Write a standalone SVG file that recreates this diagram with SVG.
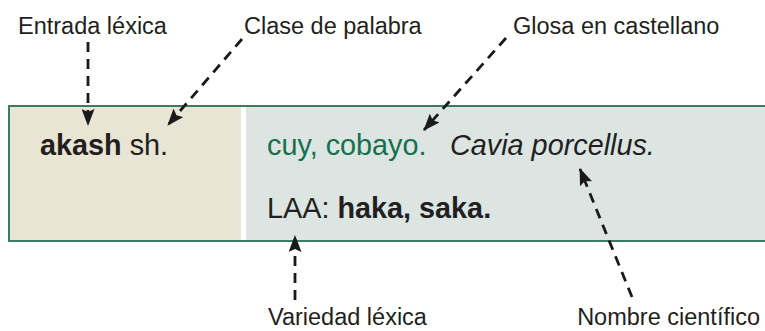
<svg xmlns="http://www.w3.org/2000/svg" width="765" height="331" viewBox="0 0 765 331">
  <style>
    .lbl { font-family: "Liberation Sans", Arial, sans-serif; font-size: 23.5px; fill: #231f20; }
    .txt { font-family: "Liberation Sans", Arial, sans-serif; font-size: 28.8px; fill: #231f20; }
    .b { font-weight: bold; }
    .i { font-style: italic; }
    .green { fill: #17704c; }
    .conn { stroke: #1a1a1a; stroke-width: 2.8; stroke-dasharray: 10 7; fill: none; marker-end: url(#ah); }
  </style>
  <defs>
    <marker id="ah" markerUnits="userSpaceOnUse" viewBox="0 0 17 13" refX="16" refY="6.5" markerWidth="17" markerHeight="13" orient="auto">
      <path d="M0,0 L17,6.5 L0,13 L3,6.5 z" fill="#1a1a1a"/>
    </marker>
  </defs>
  <rect width="765" height="331" fill="#ffffff"/>

  <g id="entry-box">
    <rect x="9" y="106" width="770" height="135" fill="#ffffff"/>
    <rect x="9" y="106" width="232" height="135" fill="#e8e5d4"/>
    <rect x="246" y="106" width="530" height="135" fill="#dce5e2"/>
    <rect x="9" y="106" width="770" height="135" fill="none" stroke="#3b7d63" stroke-width="2"/>
  </g>

  <g id="entry-headword">
    <text class="txt" x="40" y="155"><tspan class="b">akash</tspan> sh.</text>
  </g>
  <g id="entry-gloss">
    <text class="txt green" x="267" y="155">cuy, cobayo.</text>
  </g>
  <g id="entry-scientific">
    <text class="txt i" x="450" y="155">Cavia porcellus.</text>
  </g>
  <g id="entry-variety">
    <text class="txt" x="267" y="218">LAA: <tspan class="b">haka, saka.</tspan></text>
  </g>

  <g id="label-entrada"><text class="lbl" x="18" y="34">Entrada léxica</text></g>
  <g id="label-clase"><text class="lbl" x="244" y="34">Clase de palabra</text></g>
  <g id="label-glosa"><text class="lbl" x="513" y="34">Glosa en castellano</text></g>
  <g id="label-variedad"><text class="lbl" x="268" y="325">Variedad léxica</text></g>
  <g id="label-nombre"><text class="lbl" x="760" y="325" text-anchor="end">Nombre científico</text></g>

  <g id="connectors">
    <line class="conn" x1="88" y1="42" x2="88" y2="125"/>
    <line class="conn" x1="242" y1="39" x2="168" y2="125"/>
    <line class="conn" x1="506" y1="38" x2="424" y2="130"/>
    <line class="conn" x1="632" y1="297" x2="580" y2="169"/>
    <line class="conn" x1="295" y1="300" x2="295" y2="236"/>
  </g>
</svg>
